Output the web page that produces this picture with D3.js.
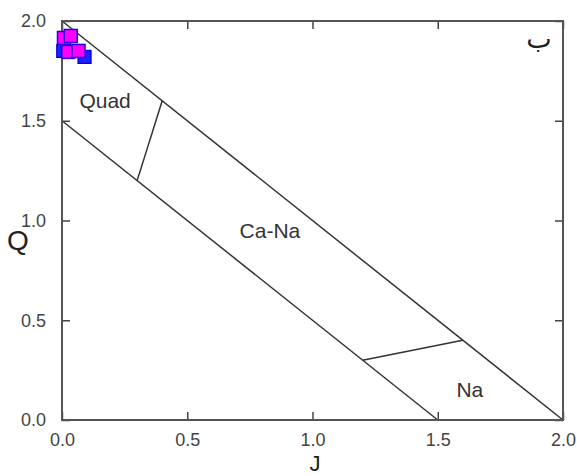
<!DOCTYPE html>
<html><head><meta charset="utf-8">
<script src="https://cdn.jsdelivr.net/npm/d3@7"></script>
<style>html,body{margin:0;padding:0;background:#fff;}svg{display:block;}</style>
</head><body>
<script>
// Data
const xTicks = [0, 0.5, 1.0, 1.5, 2.0];
const yTicks = [0, 0.5, 1.0, 1.5, 2.0];
const blueJ = [0.005, 0.09];
const blueQ = [1.85, 1.82];
const magJ = [0.008, 0.035, 0.025, 0.066];
const magQ = [1.915, 1.925, 1.845, 1.85];
// Field boundary lines [J1,Q1,J2,Q2]
const boundaries = [[0,2,2,0],[0,1.5,1.5,0],[0.3,1.2,0.4,1.6],[1.2,0.3,1.6,0.4]];
const regionNames = ["Quad","Ca-Na","Na"];
const regionJ = [0.172, 0.83, 1.628];
const regionQ = [1.564, 0.912, 0.115];

const W=577,H=476;
const svg=d3.select("body").append("svg").attr("width",W).attr("height",H);
const x=d3.scaleLinear().domain([0,2]).range([62,563]);
const y=d3.scaleLinear().domain([0,2]).range([420,21]);
const font="Liberation Sans, Arial, sans-serif";

// boundaries
svg.append("g").selectAll("line").data(boundaries).join("line")
  .attr("x1",d=>x(d[0])).attr("y1",d=>y(d[1])).attr("x2",d=>x(d[2])).attr("y2",d=>y(d[3]))
  .attr("stroke","#333").attr("stroke-width",1.5);

// axes (inward ticks)
function styleAxis(g){
  g.select(".domain").remove();
  g.selectAll(".tick line").attr("stroke","#444").attr("stroke-width",1.5);
  g.selectAll("text").attr("font-family",font).attr("font-size",18).attr("fill","#444");
}
svg.append("g").attr("transform","translate(0,420)")
  .call(d3.axisBottom(x).tickValues(xTicks).tickFormat(d3.format(".1f")).tickSizeInner(-8).tickSizeOuter(0).tickPadding(13))
  .call(styleAxis);
svg.append("g").attr("transform","translate(62,0)")
  .call(d3.axisLeft(y).tickValues(yTicks).tickFormat(d3.format(".1f")).tickSizeInner(-8).tickSizeOuter(0).tickPadding(16))
  .call(styleAxis);
svg.append("g").attr("transform","translate(0,21)")
  .call(d3.axisTop(x).tickValues(xTicks).tickFormat("").tickSizeInner(-8).tickSizeOuter(0))
  .call(styleAxis);
svg.append("g").attr("transform","translate(563,0)")
  .call(d3.axisRight(y).tickValues(yTicks).tickFormat("").tickSizeInner(-8).tickSizeOuter(0))
  .call(styleAxis);

// frame
svg.append("rect").attr("x",62).attr("y",21).attr("width",501).attr("height",399)
  .attr("fill","none").attr("stroke","#555").attr("stroke-width",2);

// region labels
svg.append("g").selectAll("text").data(regionNames).join("text")
  .attr("x",(d,i)=>x(regionJ[i])).attr("y",(d,i)=>y(regionQ[i]))
  .attr("text-anchor","middle").attr("font-family",font).attr("font-size",21).attr("fill","#333")
  .text(d=>d);

// points
const sz=13;
svg.append("g").selectAll("rect").data(blueJ.map((j,i)=>[j,blueQ[i]])).join("rect")
  .attr("x",d=>x(d[0])-sz/2).attr("y",d=>y(d[1])-sz/2).attr("width",sz).attr("height",sz)
  .attr("fill","#2020ff").attr("stroke","#0000cc").attr("stroke-width",1.2);
svg.append("g").selectAll("rect").data(magJ.map((j,i)=>[j,magQ[i]])).join("rect")
  .attr("x",d=>x(d[0])-sz/2).attr("y",d=>y(d[1])-sz/2).attr("width",sz).attr("height",sz)
  .attr("fill","#ff00ff").attr("stroke","#2a00e0").attr("stroke-width",1.5);

// axis titles
svg.append("text").attr("x",315).attr("y",471).attr("text-anchor","middle")
  .attr("font-family",font).attr("font-size",22).attr("fill","#222").text("J");
svg.append("text").attr("x",18).attr("y",250).attr("text-anchor","middle")
  .attr("font-family",font).attr("font-size",28).attr("fill","#222").text("Q");
// panel letter
svg.append("text").attr("x",539).attr("y",48).attr("text-anchor","middle")
  .attr("font-family","DejaVu Sans, sans-serif").attr("font-size",27).attr("fill","#222").text("ب");
</script>
</body></html>
